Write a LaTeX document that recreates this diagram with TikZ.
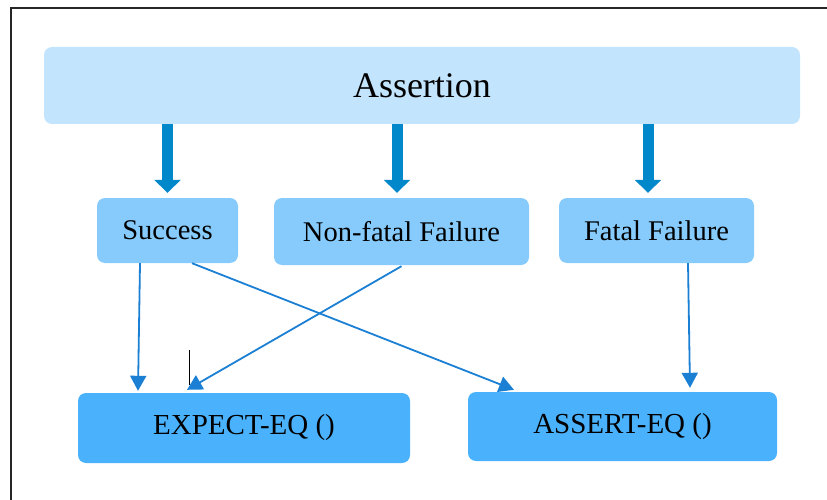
\documentclass[tikz,border=0pt]{standalone}
\usepackage{fontspec}
\setmainfont{Liberation Serif}
\usetikzlibrary{arrows.meta}

\definecolor{topfill}{HTML}{C2E4FD}
\definecolor{midfill}{HTML}{86CBFC}
\definecolor{lowfill}{HTML}{4AB2FD}
\definecolor{bigblue}{HTML}{0088CA}
\definecolor{thinblue}{HTML}{1B7FD4}

\tikzset{
  box/.style={rounded corners=8pt, draw=none, inner sep=0pt, align=center, text=black},
  topbox/.style={box, fill=topfill, font=\fontsize{36}{40}\selectfont},
  midbox/.style={box, fill=midfill, font=\fontsize{28.5}{32}\selectfont},
  lowbox/.style={box, fill=lowfill, font=\fontsize{29}{32}\selectfont},
  bigarrow/.style={draw=bigblue, line width=11pt, -{Triangle[width=26pt,length=13pt]}},
  thinarrow/.style={draw=thinblue, line width=1.8pt, -{Triangle[width=16pt,length=15pt]}},
  frameline/.style={draw=black!85, line width=2pt}
}

\begin{document}
\begin{tikzpicture}[x=1pt, y=-1pt]
  \useasboundingbox (0,0) rectangle (827,500);

  % outer frame (left and top edges)
  \draw[frameline] (11,500) -- (11,8) -- (828,8);

  % boxes
  \node[topbox, minimum width=756pt, minimum height=77pt] (asr) at (422,85.5) {Assertion};
  \node[midbox, minimum width=141pt, minimum height=65pt] (succ) at (167.5,230.5) {Success};
  \node[midbox, minimum width=255pt, minimum height=67pt] (nf) at (401.5,231.5) {Non-fatal Failure};
  \node[midbox, minimum width=195pt, minimum height=65pt] (fat) at (656.5,230.5) {Fatal Failure};
  \node[lowbox, minimum width=332pt, minimum height=70pt] (exp) at (244,428) {EXPECT-EQ ()};
  \node[lowbox, minimum width=309pt, minimum height=69pt] (ast) at (622.5,426.5) {ASSERT-EQ ()};

  % thick arrows from Assertion
  \draw[bigarrow] (asr.south -| succ.north) -- ([yshift=5pt]succ.north);
  \draw[bigarrow] ([xshift=-4.5pt]asr.south -| nf.north) -- ([xshift=-4.5pt,yshift=5pt]nf.north);
  \draw[bigarrow] ([xshift=-8.5pt]asr.south -| fat.north) -- ([xshift=-8.5pt,yshift=5pt]fat.north);

  % thin arrows to the bottom row
  \draw[thinarrow] ([xshift=-27.5pt]succ.south) -- ([xshift=-106pt,yshift=2pt]exp.north);
  \draw[thinarrow] ([xshift=24.5pt]succ.south) -- ([xshift=-108.5pt,yshift=2pt]ast.north);
  \draw[thinarrow] ([yshift=-1pt]nf.south) -- ([xshift=-57pt,yshift=3pt]exp.north);
  \draw[thinarrow] ([xshift=31.5pt]fat.south) -- ([xshift=67.5pt,yshift=4pt]ast.north);

  % small vertical mark above EXPECT-EQ
  \coordinate (mk) at (189,350);
  \draw[black, line width=0.9pt] (mk) -- ++(0,35);
\end{tikzpicture}
\end{document}
